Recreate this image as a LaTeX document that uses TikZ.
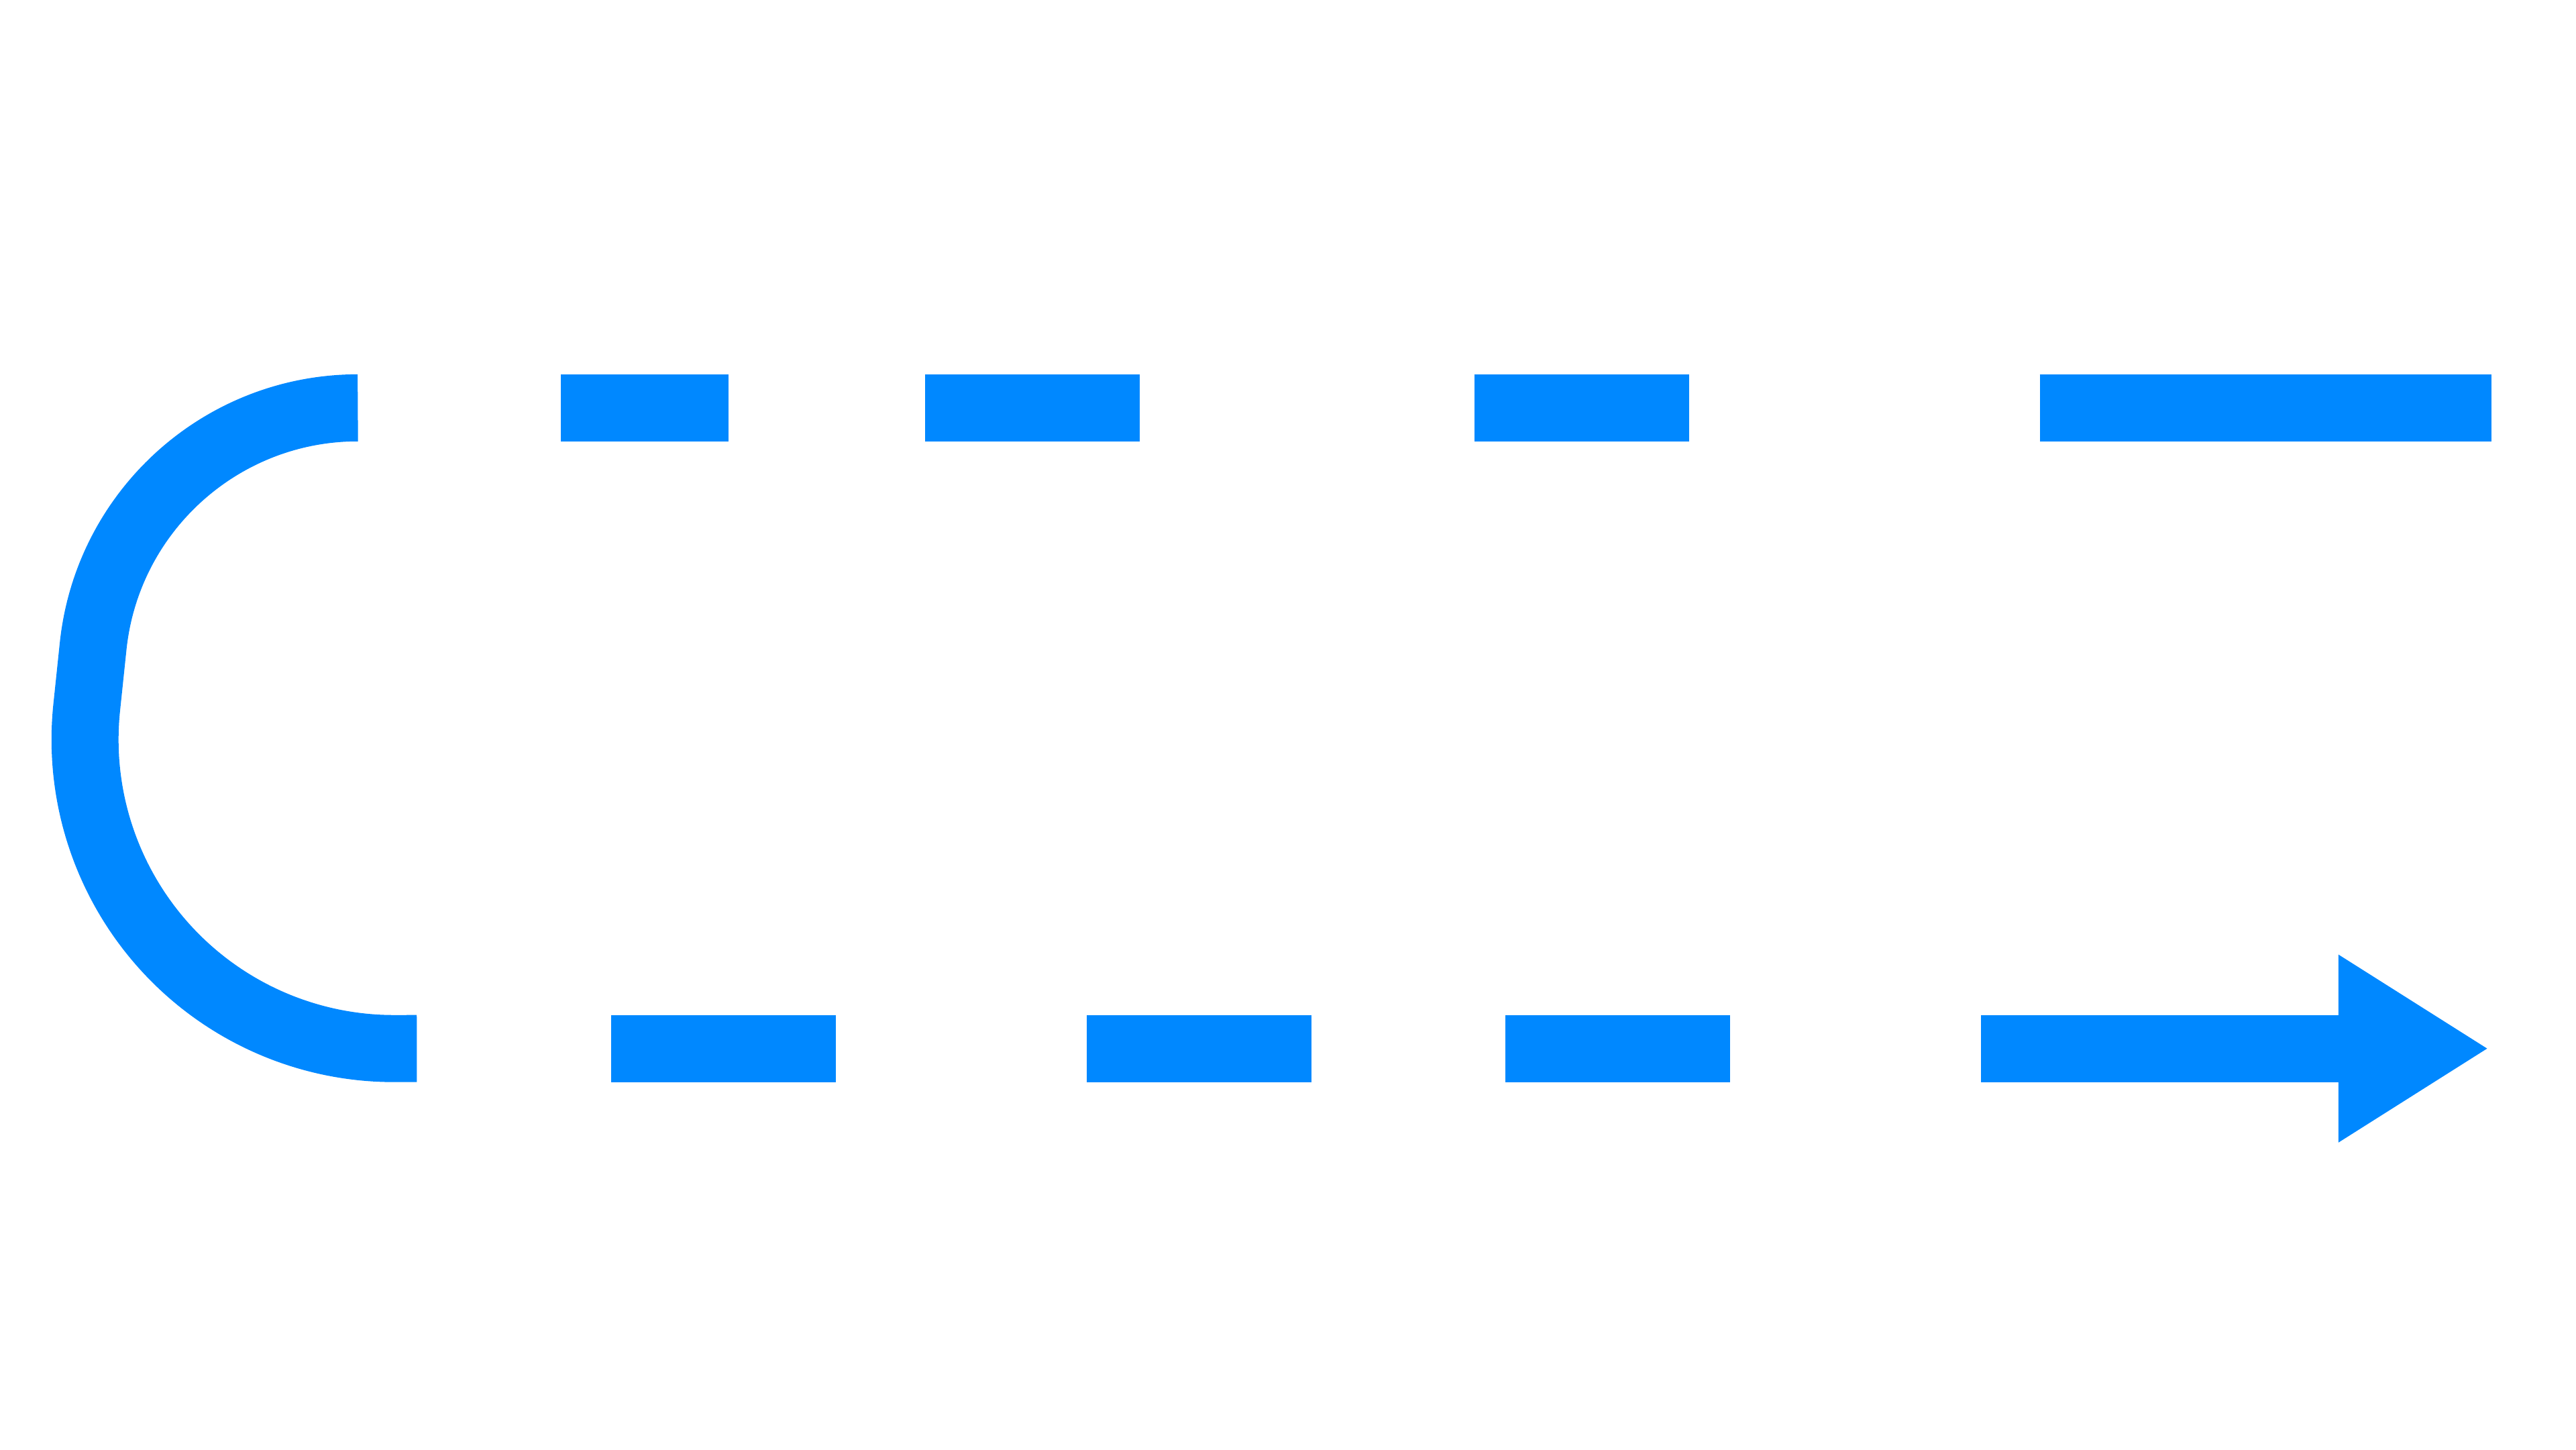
\documentclass[tikz,border=0pt]{standalone}
\usepackage{tikz}
\usetikzlibrary{arrows.meta}
\definecolor{flowblue}{RGB}{0,136,255}

\begin{document}
\begin{tikzpicture}[x=0.1mm, y=0.1mm,
    dashpart/.style={draw=flowblue, line width=4.08mm, line cap=butt, line join=round}]
    \useasboundingbox (0,0) rectangle (1568,882);
    % top row, dashes
    \foreach \a/\b in {341.4/443.6, 563/693.8, 897.4/1028.2, 1241.6/1516.4}
      \path[dashpart] (\a,633.8) -- (\b,633.8);
    % the turn on the left
    \coordinate (turn-in)  at (217.8,633.8);
    \coordinate (turn-out) at (253.7,243.9);
    \path[dashpart] (turn-in) arc[start angle=90, end angle=174, radius=162]
      -- ++(-3.9,-37.2) arc[start angle=174, end angle=270, radius=188]
      -- (turn-out);
    % bottom row, dashes
    \foreach \a/\b in {372/508.6, 661.6/798.2, 916.4/1053}
      \path[dashpart] (\a,243.9) -- (\b,243.9);
    \coordinate (last)  at (1206,243.9);
    \coordinate (tip)   at (1513.9,243.9);
    \path[dashpart, -{Triangle[length=9.05mm, width=11.44mm, line width=0pt]}] (last) -- (tip);
\end{tikzpicture}
\end{document}
